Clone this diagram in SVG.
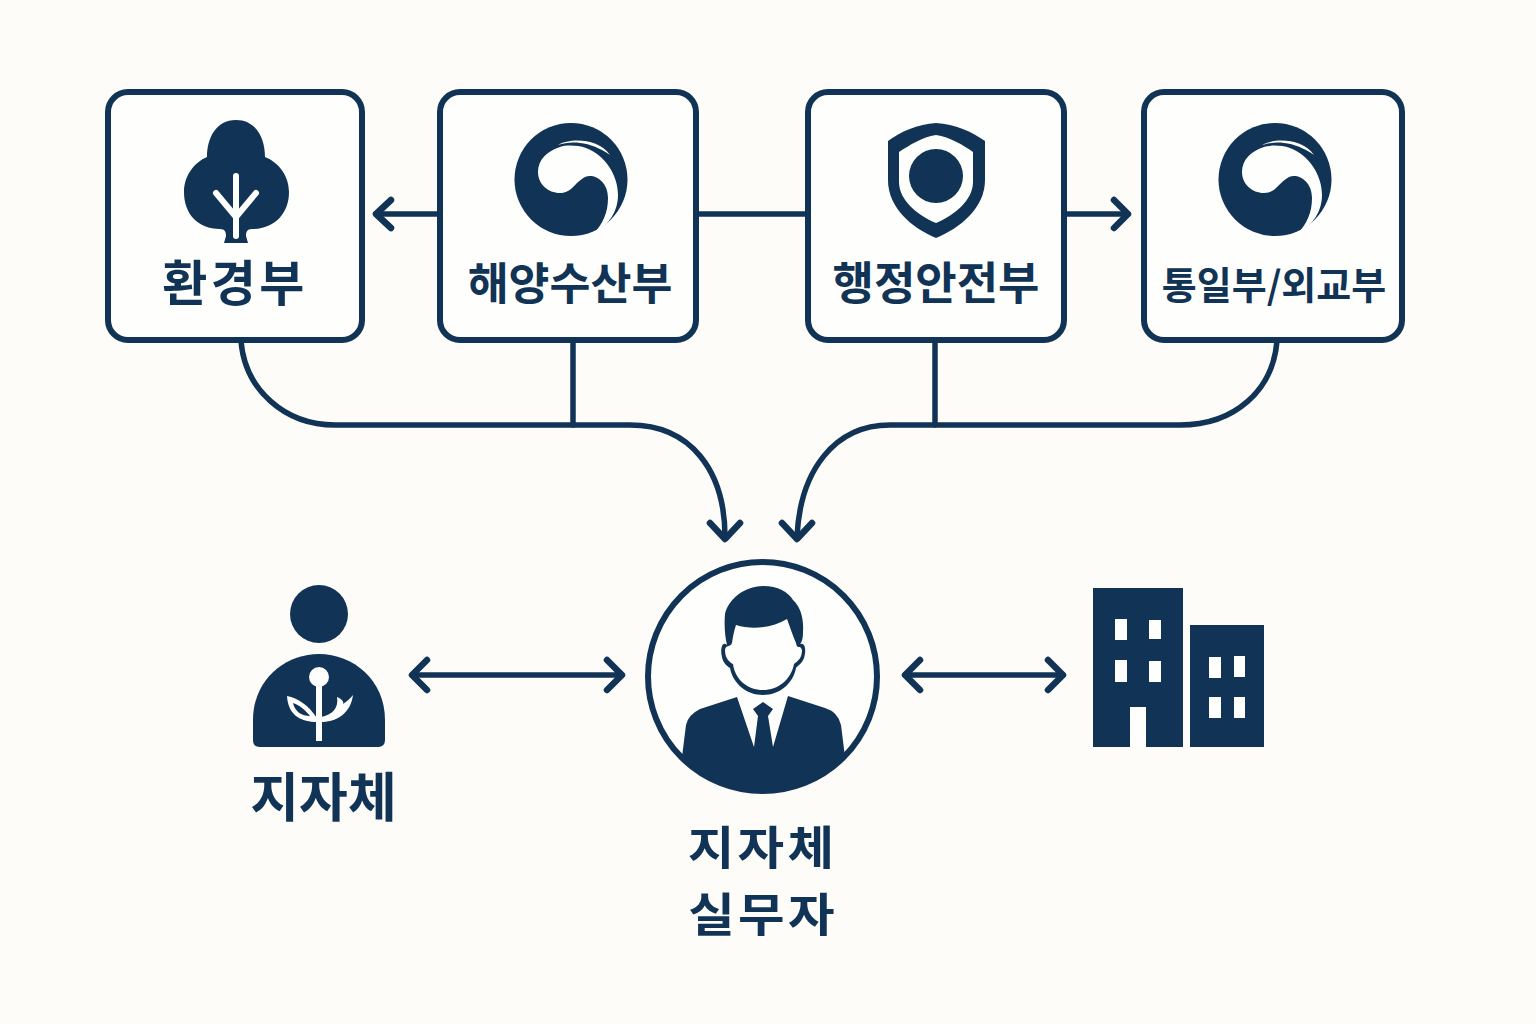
<svg xmlns="http://www.w3.org/2000/svg" xmlns:xlink="http://www.w3.org/1999/xlink" width="1536" height="1024" viewBox="0 0 1536 1024">
<style>
.box{fill:#fefefc;stroke:#113355;stroke-width:6}
.ln{fill:none;stroke:#113355;stroke-width:5.500;stroke-linecap:round;stroke-linejoin:round}
.hd{fill:none;stroke:#113355;stroke-width:6.500;stroke-linecap:round;stroke-linejoin:round}
.d{fill:#113355}
.w{fill:#fefefc}
.wl{fill:none;stroke:#fefefc;stroke-linecap:round;stroke-linejoin:round}
text{font-family:"Noto Sans CJK KR","Noto Sans",sans-serif;font-weight:700;fill:#113355;text-anchor:middle}
</style>
<defs>
<g id="emblem">
<circle class="d" cx="571" cy="179.500" r="56.500"/>
<path class="w" d="M593 234C608 226 618 212 618 195C618 175 605 155 586 148C577 145 566 145 560 147C547 151 538 160 538 172C538 184 548 193 560 193C572 193 574 183 585 177C594 173 608 181 608 198C608 212 603 224 593 234Z"/>
<path class="w" d="M558 145C570 138 598 138 610 155C600 148 590 144 580 143C572 142 564 143 558 145Z"/>
</g>
</defs>
<rect width="1536" height="1024" fill="#fdfcf9"/>
<g id="connectors">
<path class="ln" d="M241 341C245 390 285 425 335 425L630 425C690 425 725 470 725 537"/>
<path class="hd" d="M710 523L725 539L740 523"/>
<path class="ln" d="M573 341L573 425"/>
<path class="ln" d="M1277 341C1273 390 1235 425 1180 425L890 425C835 425 800 470 797 537"/>
<path class="hd" d="M782 523L797 539L812 523"/>
<path class="ln" d="M935 341L935 425"/>
<path class="ln" d="M438 214L376 214"/><path class="hd" d="M391 200L376 214L391 228"/>
<path class="ln" d="M698 214L807 214"/>
<path class="ln" d="M1065 214L1128 214"/><path class="hd" d="M1114 200L1128 214L1114 228"/>
<path class="ln" d="M413 675L622 675"/><path class="hd" d="M427 660L412 675L427 690M607 660L622 675L607 690"/>
<path class="ln" d="M905 675L1063 675"/><path class="hd" d="M920 660L905 675L920 690M1048 660L1063 675L1048 690"/>
</g>
<g id="node-env">
<rect class="box" x="108" y="92" width="254" height="248" rx="20"/>
<path class="d" d="M236 120C256 120 265 138 265 157C280 163 289 177 289 192C289 214 274 229 252 229C247 229 246 232 246 236L248 243L224 243L226 236C226 232 225 229 220 229C198 229 184 214 184 192C184 177 193 163 207 157C207 138 216 120 236 120Z"/>
<path class="wl" stroke-width="6" d="M236 176L236 236M216 193L236 217L256 193"/>
<text x="235" y="301" font-size="49" letter-spacing="3.500">환경부</text>
</g>
<g id="node-ocean">
<rect class="box" x="440" y="92" width="256" height="248" rx="20"/>
<use xlink:href="#emblem" href="#emblem"/>
<text x="570" y="300" font-size="44.500">해양수산부</text>
</g>
<g id="node-interior">
<rect class="box" x="808" y="92" width="256" height="248" rx="20"/>
<path class="d" d="M936 123C955 124 972 132 985 141L985 180C985 208 960 228 936 238C912 228 888 208 888 180L888 141C900 132 918 124 936 123Z"/>
<path class="w" d="M936 135C950 137 963 145 973 152L973 182C973 200 955 215 936 223C917 215 899 200 899 182L899 152C910 145 922 137 936 135Z"/>
<ellipse class="d" cx="936" cy="176" rx="27" ry="27"/>
<text x="936" y="300" font-size="45">행정안전부</text>
</g>
<g id="node-unif">
<rect class="box" x="1144" y="92" width="258" height="248" rx="20"/>
<use xlink:href="#emblem" href="#emblem" x="704"/>
<text x="1274" y="299" font-size="38">통일부/외교부</text>
</g>
<g id="node-local">
<circle class="d" cx="319" cy="614" r="29"/>
<path class="d" d="M253 740L253 720C253 680 285 654 319 654C353 654 385 680 385 720L385 740Q385 747 378 747L260 747Q253 747 253 740Z"/>
<circle class="w" cx="319" cy="677" r="10"/>
<rect class="w" x="316" y="680" width="6" height="61"/>
<path class="w" d="M287 696C298 698 308 705 317 718L317 722C302 722 288 716 287 696Z"/>
<path class="d" d="M293 703C300 705 306 711 310 716C302 716 295 712 293 703Z"/>
<path class="w" d="M353 695C351 712 338 722 321 722L321 717C332 715 339 708 337 697C342 699 344 702 343 704C346 702 350 699 353 695Z"/>
<text x="323.500" y="817" font-size="53">지자체</text>
</g>
<g id="node-officer">
<circle cx="762.500" cy="676.500" r="114.500" fill="#fefefc" stroke="#113355" stroke-width="6"/>
<path class="d" d="M763 586C778 586 788 592 793 600C800 606 804 618 803 632C803 638 802 642 800 644C806 642 806 652 804 658C802 664 797 666 796 668C793 684 779 695 763 695C747 695 733 684 730 668C727 666 723 663 722 657C720 650 722 640 727 645C725 636 724 626 725 614C728 600 744 586 763 586Z"/>
<path class="w" d="M736 625C752 630 772 628 787 619C790 627 793 636 796 643C797 650 800 644 802 650C802 658 798 661 794 664C791 680 778 690 763 690C748 690 735 680 733 664C729 662 725 658 725 650C726 644 730 648 732 643C733 636 734 631 736 625Z"/>
<path class="d" d="M737 697L700 709Q688 715 686 725L682 757A114.500 114.500 0 0 0 845 757L841 725Q838 712 825 708L788 696L773 747L768 716L773 709L763 702L753 709L758 716L754 747Z"/>
<text transform="translate(762.500 864) scale(1.100 1)" font-size="46" letter-spacing="3">지자체</text>
<text transform="translate(763 931) scale(1.100 1)" font-size="46" letter-spacing="3">실무자</text>
</g>
<g id="node-building">
<rect class="d" x="1093" y="588" width="90" height="159"/>
<rect class="d" x="1190" y="625" width="74" height="122"/>
<g class="w">
<rect x="1115" y="619" width="12" height="21"/>
<rect x="1149" y="620" width="12" height="19"/>
<rect x="1115" y="660" width="12" height="22"/>
<rect x="1149" y="661" width="12" height="21"/>
<rect x="1130" y="707" width="16" height="40"/>
<rect x="1209" y="657" width="12" height="21"/>
<rect x="1234" y="656" width="11" height="21"/>
<rect x="1209" y="697" width="12" height="21"/>
<rect x="1234" y="697" width="11" height="21"/>
</g>
</g>
</svg>
